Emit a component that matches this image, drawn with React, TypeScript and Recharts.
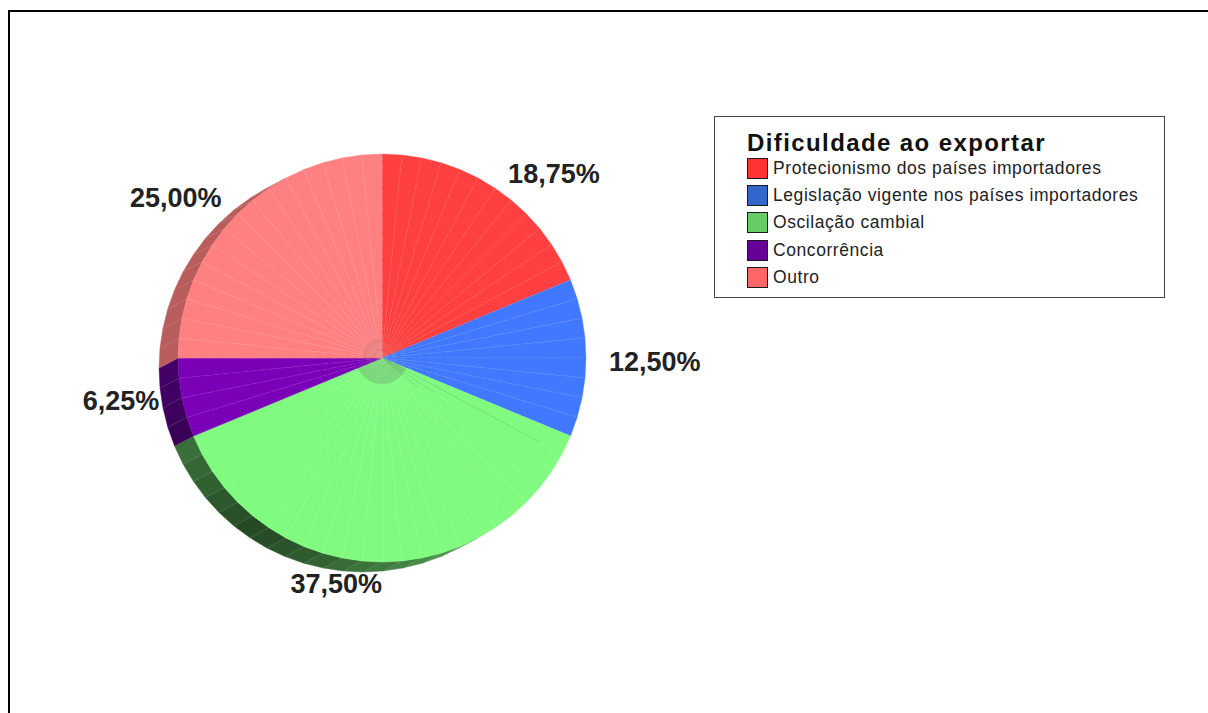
import { Legend, Pie, PieChart } from "recharts";

const CATEGORIES = [
  "Protecionismo dos países importadores",
  "Legislação vigente nos países importadores",
  "Oscilação cambial",
  "Concorrência",
  "Outro",
];
const SHARES = [18.75, 12.5, 37.5, 6.25, 25];
const TOP_COLORS = ["#ff4040", "#4079ff", "#80fb80", "#7a00b8", "#ff8080"];
const KEY_COLORS = ["#ff3333", "#3366cc", "#66cc66", "#660099", "#ff6666"];
// vertical nudge of each percentage label
const LABEL_NUDGE = [5, 4, -1, -1, 1];
// darker spokes on the first green wedges, in pixels from the hub
const DARK_SPOKES = [180, 62, 48];
const FIRST_GREEN_FACET = 20;

// every slice is built from equal flat wedges of this share
const FACET_SHARE = 1.5625;
const CX = 382;
const CY = 358;
const RADIUS = 204;
const DEPTH_X = -19;
const DEPTH_Y = 10;

const facets = SHARES.flatMap((share, i) =>
  Array.from({ length: Math.round(share / FACET_SHARE) }, () => ({
    value: FACET_SHARE,
    color: TOP_COLORS[i],
    slice: i,
  }))
).map((f, n) => ({ ...f, spoke: DARK_SPOKES[n - FIRST_GREEN_FACET] ?? 0 }));
const slices = SHARES.map((value, i) => ({ name: CATEGORIES[i], value }));

const point = (cx: number, cy: number, r: number, deg: number) => {
  const rad = (deg * Math.PI) / 180;
  return [cx + r * Math.cos(rad), cy - r * Math.sin(rad)];
};

const shade = (hex: string, k: number) => {
  const n = parseInt(hex.slice(1), 16);
  const c = [n >> 16, (n >> 8) & 255, n & 255].map((v) => Math.round(v * k));
  return `rgb(${c[0]},${c[1]},${c[2]})`;
};

function TopFacet(props: any) {
  const { cx, cy, outerRadius, startAngle, endAngle, payload } = props;
  const a = point(cx, cy, outerRadius, startAngle);
  const b = point(cx, cy, outerRadius, endAngle);
  const s = point(cx, cy, payload.spoke, endAngle);
  return (
    <g>
      <polygon points={`${cx},${cy} ${a} ${b}`} fill={payload.color} stroke={payload.color} strokeWidth={0.4} />
      <line x1={cx} y1={cy} x2={b[0]} y2={b[1]} stroke="#ffffff" strokeOpacity={0.42} strokeWidth={0.6} strokeDasharray="7 2" />
      {payload.spoke > 0 && (
        <line x1={cx} y1={cy} x2={s[0]} y2={s[1]} stroke="#3f7f4f" strokeOpacity={0.75} strokeWidth={0.8} />
      )}
    </g>
  );
}

// extruded rim under the disc, darkest towards the lower left
function SideFacet(props: any) {
  const { cx, cy, outerRadius, startAngle, endAngle, payload } = props;
  const mid = (startAngle + endAngle) / 2;
  const rad = (mid * Math.PI) / 180;
  if (Math.cos(rad) * DEPTH_X - Math.sin(rad) * DEPTH_Y <= 0) return <g />;
  const clock = ((90 - mid) % 360 + 360) % 360;
  const k = payload.slice === 4 ? 0.72 : 0.28 + 0.0055 * Math.abs(clock - 215);
  const a = point(cx, cy, outerRadius, startAngle);
  const b = point(cx, cy, outerRadius, endAngle);
  const a2 = [a[0] + DEPTH_X, a[1] + DEPTH_Y];
  const b2 = [b[0] + DEPTH_X, b[1] + DEPTH_Y];
  const fill = shade(payload.color, k);
  return (
    <g>
      <polygon points={`${a} ${b} ${b2} ${a2}`} fill={fill} stroke={fill} strokeWidth={0.4} />
      <line x1={b[0]} y1={b[1]} x2={b2[0]} y2={b2[1]} stroke="#ffffff" strokeOpacity={0.25} strokeWidth={0.6} />
    </g>
  );
}

// the spokes crowd together near the hub and tint it, mostly on green and pink
function CoreFacet(props: any) {
  const { cx, cy, outerRadius, startAngle, endAngle, payload } = props;
  const opacity = [0.03, 0.05, 0.2, 0.05, 0.1][payload.slice];
  const r = payload.slice === 2 ? outerRadius + 6 : outerRadius;
  const a = point(cx, cy, r, startAngle);
  const b = point(cx, cy, r, endAngle);
  return <polygon points={`${cx},${cy} ${a} ${b}`} fill="#505050" fillOpacity={opacity} />;
}

function sliceLabel(props: any) {
  const { cx, cy, midAngle, value, index } = props;
  const [x, y] = point(cx, cy, RADIUS + 23, midAngle);
  const right = Math.cos((midAngle * Math.PI) / 180) > 0.01;
  return (
    <text
      x={x}
      y={y + LABEL_NUDGE[index]}
      textAnchor={right ? "start" : "end"}
      dominantBaseline="central"
      fill="#222222"
      fontFamily="'Liberation Sans', Arial, sans-serif"
      fontWeight={700}
      fontSize={27}
    >
      {value.toFixed(2).replace(".", ",") + "%"}
    </text>
  );
}

function LegendBox() {
  return (
    <div
      style={{
        boxSizing: "border-box",
        width: 451,
        height: 182,
        border: "1px solid #444444",
        background: "#ffffff",
        fontFamily: "'Liberation Sans', Arial, sans-serif",
        color: "#222222",
        position: "relative",
      }}
    >
      <div
        style={{
          position: "absolute",
          left: 32,
          top: 12,
          fontSize: 24,
          fontWeight: 700,
          letterSpacing: 1.4,
          color: "#111111",
          whiteSpace: "nowrap",
        }}
      >
        Dificuldade ao exportar
      </div>
      {CATEGORIES.map((name, i) => (
        <div
          key={name}
          style={{
            position: "absolute",
            left: 32,
            top: [40, 67, 94, 122, 149][i],
            display: "flex",
            alignItems: "center",
            height: 22,
            whiteSpace: "nowrap",
            fontSize: 17.5,
            letterSpacing: 0.57,
          }}
        >
          <span
            style={{
              boxSizing: "border-box",
              width: 21,
              height: 21,
              marginRight: 5,
              border: "1.5px solid #1a1a1a",
              background: KEY_COLORS[i],
            }}
          />
          {name}
        </div>
      ))}
    </div>
  );
}

export default function App() {
  return (
    <div style={{ position: "absolute", left: 0, top: 0, width: 1208, height: 713, overflow: "hidden", background: "#ffffff" }}>
      <div
        style={{
          position: "absolute",
          left: 8,
          top: 10,
          width: 1300,
          height: 800,
          borderLeft: "2px solid #000000",
          borderTop: "2px solid #000000",
        }}
      />
      <PieChart
        width={1208}
        height={713}
        margin={{ top: 0, right: 0, bottom: 0, left: 0 }}
        style={{ position: "absolute", left: 0, top: 0 }}
      >
        <Pie
          data={facets}
          dataKey="value"
          cx={CX}
          cy={CY}
          outerRadius={RADIUS}
          startAngle={90}
          endAngle={-270}
          stroke="none"
          legendType="none"
          shape={SideFacet}
          isAnimationActive={false}
        />
        <Pie
          data={facets}
          dataKey="value"
          cx={CX}
          cy={CY}
          outerRadius={RADIUS}
          startAngle={90}
          endAngle={-270}
          stroke="none"
          legendType="none"
          shape={TopFacet}
          isAnimationActive={false}
        />
        <Pie
          data={facets}
          dataKey="value"
          cx={CX}
          cy={CY}
          outerRadius={20}
          startAngle={90}
          endAngle={-270}
          stroke="none"
          legendType="none"
          shape={CoreFacet}
          isAnimationActive={false}
        />
        <Pie
          data={slices}
          dataKey="value"
          cx={CX}
          cy={CY}
          outerRadius={RADIUS}
          startAngle={90}
          endAngle={-270}
          fill="none"
          stroke="none"
          legendType="none"
          label={sliceLabel}
          labelLine={false}
          isAnimationActive={false}
        />
        <Legend
          content={<LegendBox />}
          wrapperStyle={{ position: "absolute", left: 714, top: 116, width: 451, height: 182, bottom: "auto" }}
        />
      </PieChart>
    </div>
  );
}
